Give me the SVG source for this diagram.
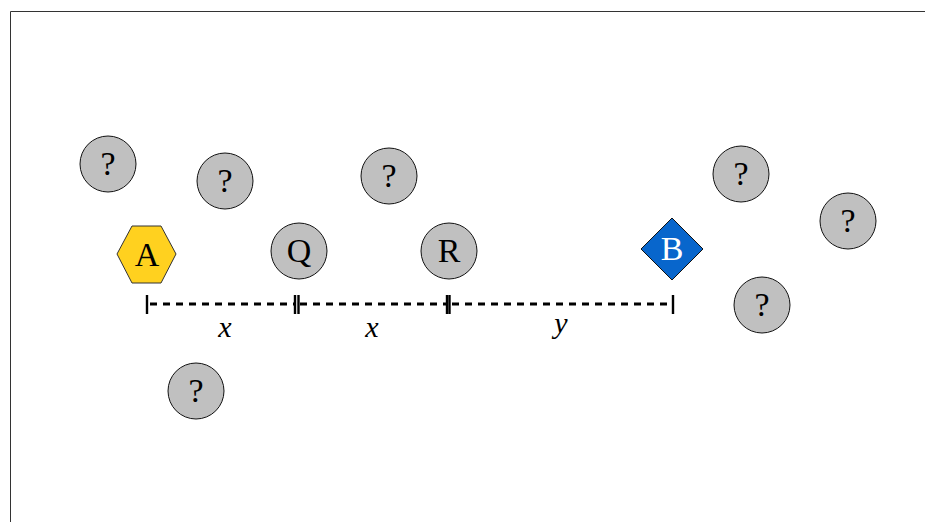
<svg xmlns="http://www.w3.org/2000/svg" width="925" height="522" viewBox="0 0 925 522">
<style>
.unk{fill:#c0c0c0;stroke:#111;stroke-width:1}
.lbl{font-family:"Liberation Serif","DejaVu Serif",serif;font-size:34px;text-anchor:middle;fill:#000}
.dim{stroke:#000;stroke-width:3.2;stroke-dasharray:7 6;fill:none}
.tick{stroke:#000;stroke-width:2.4;fill:none}
.var{font-family:"Liberation Serif","DejaVu Serif",serif;font-style:italic;font-size:30px;text-anchor:middle;fill:#000}
</style>
<rect width="925" height="522" fill="#fff"/>
<path d="M10.5 522 V11.5 H925" fill="none" stroke="#333" stroke-width="1"/>
<g id="n1"><circle class="unk" cx="108" cy="164" r="28"/><text class="lbl" x="108" y="175">?</text></g>
<g id="n2"><circle class="unk" cx="225" cy="181" r="28"/><text class="lbl" x="225" y="192">?</text></g>
<g id="n3"><circle class="unk" cx="389" cy="176" r="28"/><text class="lbl" x="389" y="187">?</text></g>
<g id="n4"><circle class="unk" cx="741" cy="174" r="28"/><text class="lbl" x="741" y="185">?</text></g>
<g id="n5"><circle class="unk" cx="848" cy="221" r="28"/><text class="lbl" x="848" y="232">?</text></g>
<g id="n6"><circle class="unk" cx="762" cy="305" r="28"/><text class="lbl" x="762" y="316">?</text></g>
<g id="n7"><circle class="unk" cx="196" cy="391" r="28"/><text class="lbl" x="196" y="402">?</text></g>
<g id="A"><polygon points="117,254 132,226 161,226 176,254 161,283 132,283" fill="#ffd11f" stroke="#333" stroke-width="1"/><text class="lbl" x="147" y="266">A</text></g>
<g id="Q"><circle class="unk" cx="299" cy="251" r="28"/><text class="lbl" x="299" y="262">Q</text></g>
<g id="R"><circle class="unk" cx="449" cy="251" r="28"/><text class="lbl" x="449" y="262">R</text></g>
<g id="B"><polygon points="672,218 703,249 672,280 641,249" fill="#0866cc" stroke="#111" stroke-width="1"/><text class="lbl" x="672" y="260" style="fill:#fff">B</text></g>
<g id="connectors">
<line class="dim" x1="150" y1="304" x2="295" y2="304"/>
<line class="dim" x1="300" y1="304" x2="446" y2="304"/>
<line class="dim" x1="452" y1="304" x2="672" y2="304"/>
<line class="tick" x1="147" y1="295" x2="147" y2="314"/>
<line class="tick" x1="295" y1="295" x2="295" y2="314"/>
<line class="tick" x1="298.5" y1="295" x2="298.5" y2="314"/>
<line class="tick" x1="447" y1="295" x2="447" y2="314"/>
<line class="tick" x1="449.5" y1="295" x2="449.5" y2="314"/>
<line class="tick" x1="673" y1="295" x2="673" y2="314"/>
<text class="var" x="225" y="337">x</text>
<text class="var" x="372" y="337">x</text>
<text class="var" x="561" y="333">y</text>
</g>
</svg>
